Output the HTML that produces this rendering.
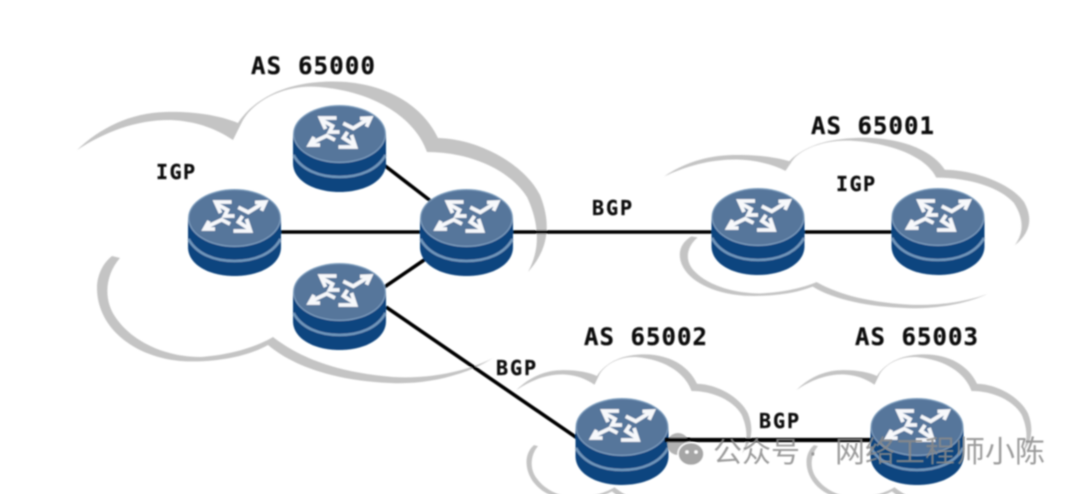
<!DOCTYPE html>
<html><head><meta charset="utf-8"><style>
html,body{margin:0;padding:0;background:#fff;width:1080px;height:494px;overflow:hidden}
svg{display:block}
.t{font-family:"DejaVu Sans Mono","Liberation Mono",monospace;font-weight:bold;fill:#111;stroke:#111;stroke-width:.3}
.w{font-family:"Liberation Sans","Noto Sans CJK SC",sans-serif;fill:#8a8a8a;fill-opacity:.85}
</style></head><body>
<svg width="1080" height="494" viewBox="0 0 1080 494" xmlns="http://www.w3.org/2000/svg">
<defs>
<filter id="b" x="-5%" y="-5%" width="110%" height="110%"><feGaussianBlur stdDeviation="0.7"/></filter>
<g id="cloud" fill="#c4c4c4">
<path d="M77 150C100 128 130 113 165 112C195 111 222 116 238 123C250 105 275 85 320 82C375 78 420 100 438 138C480 139 525 165 540 195C552 225 548 250 528 272C540 250 540 225 527 197C510 170 470 152 427 152C415 118 375 92 320 87C285 84 255 100 243 120L233 140C215 128 195 121 170 120C135 120 105 132 77 150Z"/>
<path d="M112 256L120 258C105 275 103 300 116 318C135 345 170 357 200 357C232 355 258 346 273 337C295 354 330 372 393 377C430 379 465 372 493 358C465 376 425 385 390 383C340 381 295 368 268 345C245 358 210 363 180 361C130 356 97 325 97 288C97 275 103 263 112 256Z"/>
</g>
<g id="r">
<path d="M-46.500 29V58C-46.500 76 -25 87 0 87S46.500 76 46.500 58V29Z" fill="#0d447f"/>
<path d="M-46 50C-38 65 -20 72 0 72S38 65 46 50" fill="none" stroke="#7096bb" stroke-width="2.600"/>
<ellipse cx="0" cy="29" rx="46.500" ry="29" fill="#80a0c0"/>
<ellipse cx="0" cy="29" rx="45.300" ry="27.800" fill="#56769b"/>
<g fill="none" stroke="#f6f8fb" stroke-width="3.800" stroke-linejoin="miter">
<path d="M3.800 18.300L13.800 23.300L28.800 14"/><path d="M20.500 13.500L31 13L27 21.700"/>
<path d="M-4.500 35L-12.800 30.700L-28 38"/><path d="M-19.500 40L-30 40L-25.500 32"/>
<path d="M-3 13L-19 13L-14 24"/><path d="M-18 15L-7 21L-10 27L0 27"/>
<path d="M-1 42L16 42L12 30"/><path d="M15 40L4 33L8 27"/>
</g>
</g>
</defs>
<g filter="url(#b)">
<use href="#cloud"/>
<use href="#cloud" transform="translate(604.4 91.7) scale(.777 .565)"/>
<use href="#cloud" transform="translate(478 312) scale(.5 .52)"/>
<use href="#cloud" transform="translate(758 312) scale(.5 .52)"/>
<g stroke="#000" fill="none">
<path d="M384 165L432 202" stroke-width="3.600"/>
<path d="M278 232H425" stroke-width="3.600"/>
<path d="M510 232H715" stroke-width="3.400"/>
<path d="M383 288L430 256" stroke-width="3.600"/>
<path d="M386 307L580 440" stroke-width="3.600"/>
<path d="M802 232H895" stroke-width="3.400"/>
<path d="M665 440H873" stroke-width="4.200"/>
</g>
<use href="#r" x="339.500" y="105"/>
<use href="#r" x="234.500" y="189"/>
<use href="#r" x="466.500" y="189"/>
<use href="#r" x="339.500" y="263"/>
<use href="#r" x="758" y="188"/>
<use href="#r" x="938" y="188"/>
<use href="#r" x="622" y="398"/>
<use href="#r" x="917" y="398"/>
<text class="t" x="251" y="74" font-size="24" textLength="124">AS 65000</text>
<text class="t" x="811" y="134" font-size="24" textLength="123">AS 65001</text>
<text class="t" x="584" y="345" font-size="24" textLength="123">AS 65002</text>
<text class="t" x="855" y="345" font-size="24" textLength="123">AS 65003</text>
<text class="t" x="156" y="179" font-size="20" textLength="39">IGP</text>
<text class="t" x="836" y="191" font-size="20" textLength="39">IGP</text>
<text class="t" x="592" y="215" font-size="20" textLength="40">BGP</text>
<text class="t" x="496" y="375" font-size="20" textLength="40">BGP</text>
<text class="t" x="759" y="428" font-size="20" textLength="40">BGP</text>
</g>
<g filter="url(#b)">
<circle cx="678" cy="444" r="11" fill="#aaaaaa" fill-opacity=".9"/>
<path d="M665 440H690" stroke="#000" stroke-width="4.200"/>
<ellipse cx="691" cy="454" rx="13" ry="11.500" fill="#a6a6a6" stroke="#fff" stroke-width="1.500"/>
<circle cx="687" cy="452" r="1.800" fill="#fff"/><circle cx="696" cy="452" r="1.800" fill="#fff"/>
<text class="w" x="713" y="462" font-size="29">公众号</text>
<text class="w" x="808" y="462" font-size="29">·</text>
<text class="w" x="835" y="462" font-size="30">网络工程师小陈</text>
</g>
</svg>
</body></html>
